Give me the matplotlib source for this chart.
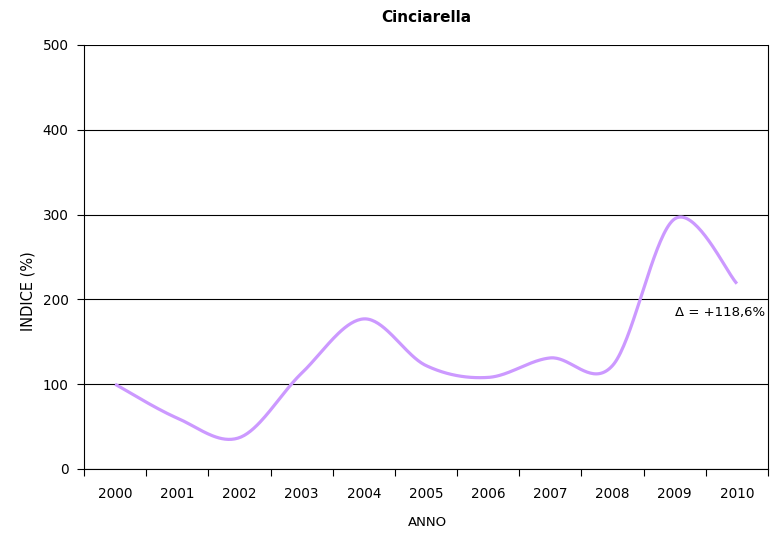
import numpy as np
import matplotlib
matplotlib.use("Agg")
import matplotlib.pyplot as plt

years = ["2000", "2001", "2002", "2003", "2004", "2005", "2006", "2007", "2008", "2009", "2010"]
indice = [100, 60, 37, 113, 177, 122, 108, 131, 122, 295, 218.6]
delta_label = "Δ = +118,6%"

line_color = "#CC99FF"


def smooth_curve(xs, ys, steps=40):
    """Cubic Bezier smoothing through every point (Catmull-Rom style tangents)."""
    xs = np.asarray(xs, float)
    ys = np.asarray(ys, float)
    n = len(xs)
    px = np.concatenate([[xs[0]], xs, [xs[-1]]])
    py = np.concatenate([[ys[0]], ys, [ys[-1]]])
    out_x, out_y = [], []
    t = np.linspace(0, 1, steps)
    for i in range(n - 1):
        p0 = np.array([px[i + 1], py[i + 1]])
        p3 = np.array([px[i + 2], py[i + 2]])
        c1 = p0 + (np.array([px[i + 2], py[i + 2]]) - np.array([px[i], py[i]])) / 6
        c2 = p3 - (np.array([px[i + 3], py[i + 3]]) - np.array([px[i + 1], py[i + 1]])) / 6
        b = ((1 - t) ** 3)[:, None] * p0 + (3 * (1 - t) ** 2 * t)[:, None] * c1 \
            + (3 * (1 - t) * t ** 2)[:, None] * c2 + (t ** 3)[:, None] * p3
        out_x.extend(b[:, 0])
        out_y.extend(b[:, 1])
    return np.array(out_x), np.array(out_y)


fig = plt.figure(figsize=(7.71, 5.36), dpi=100)
ax = fig.add_axes([84 / 771, 67 / 536, 684 / 771, 424 / 536])

x = np.arange(len(years))
sx, sy = smooth_curve(x, indice)
ax.plot(sx, sy, color=line_color, lw=2.3, solid_capstyle="butt", zorder=3)

ax.set_xlim(-0.5, len(years) - 0.5)
ax.set_ylim(0, 500)
ax.set_yticks(np.arange(0, 501, 100))
ax.yaxis.grid(True, color="#000000", lw=0.8)
ax.set_axisbelow(True)

# category labels centred in each bin, ticks on bin boundaries
ax.set_xticks(np.arange(-0.5, len(years), 1.0))
ax.set_xticklabels([])
ax.set_xticks(x, minor=True)
ax.set_xticklabels(years, minor=True, fontsize=9.8)
ax.tick_params(axis="x", which="minor", length=0, pad=13)
ax.tick_params(axis="x", which="major", length=5, direction="out", color="#000000", width=0.8)
ax.tick_params(axis="y", length=5, direction="out", labelsize=9.8, pad=6, width=0.8)

for side in ["left", "right", "bottom", "top"]:
    ax.spines[side].set_color("#000000")
    ax.spines[side].set_linewidth(0.8)
ax.spines["top"].set_visible(False)

ax.text(10.45, 185, delta_label, ha="right", va="center", fontsize=9.5)

fig.text(426 / 771, 1 - 17 / 536, "Cinciarella", ha="center", va="center",
         fontsize=11, fontweight="bold")
fig.text(427 / 771, 1 - 523 / 536, "ANNO", ha="center", va="center", fontsize=9.5)
fig.text(28 / 771, 1 - 291 / 536, "INDICE (%)", ha="center", va="center",
         rotation=90, fontsize=10.5)

fig.savefig("out.png", dpi=100, facecolor="white")
